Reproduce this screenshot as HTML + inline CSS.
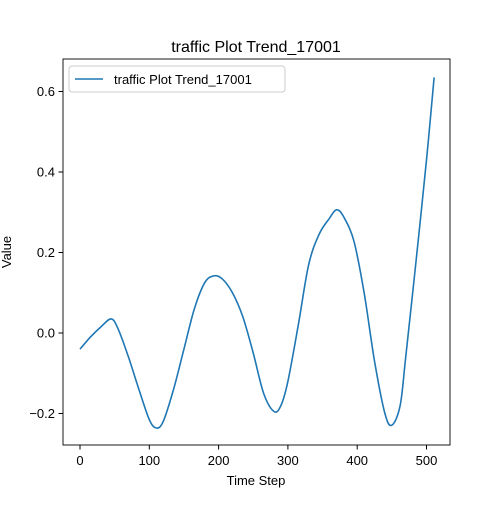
<!DOCTYPE html>
<html><head><meta charset="utf-8"><style>
body{margin:0;background:#fff;}
svg text{font-family:"Liberation Sans","DejaVu Sans",sans-serif;fill:#000;}
</style></head><body>
<svg id="chart" width="500" height="500" xmlns="http://www.w3.org/2000/svg">
<rect width="500" height="500" fill="#fff"/>
<text x="256" y="52" font-size="16" text-anchor="middle">traffic Plot Trend_17001</text>
<g id="grid"></g>
<path id="line" fill="none" stroke="#1f77b4" stroke-width="1.6"/>
<rect x="63" y="59" width="387" height="386" fill="none" stroke="#000" stroke-width="0.9"/>
<g id="ticks"></g>
<text x="256" y="485" font-size="13" text-anchor="middle">Time Step</text>
<text x="11" y="252" font-size="13" text-anchor="middle" transform="rotate(-90 11 252)">Value</text>
<g>
<rect x="69" y="66" width="216" height="26" rx="3" fill="#fff" stroke="#ccc"/>
<line x1="75" y1="79" x2="103" y2="79" stroke="#1f77b4" stroke-width="1.6"/>
<text x="114" y="84" font-size="13">traffic Plot Trend_17001</text>
</g>
</svg>
<script>
const xs=[0,15,30,45,55,70,85,100,110,120,135,150,165,180,193,205,220,235,250,265,280,290,300,315,330,345,360,370,380,395,410,425,440,450,462,470,485,500,511];
const ys=[-0.04,-0.01,0.015,0.035,0.01,-0.06,-0.14,-0.215,-0.236,-0.22,-0.14,-0.04,0.06,0.125,0.142,0.135,0.10,0.04,-0.05,-0.15,-0.195,-0.18,-0.12,0.02,0.17,0.245,0.285,0.306,0.29,0.23,0.1,-0.07,-0.2,-0.229,-0.18,-0.06,0.18,0.43,0.635];
const xTicks=[0,100,200,300,400,500];
const yTicks=[-0.2,0.0,0.2,0.4,0.6];
const yLabels=["−0.2","0.0","0.2","0.4","0.6"];
const X=v=>80+v*0.693;
const Y=v=>333-v*402.5;
const ns="http://www.w3.org/2000/svg";
const t=document.getElementById('ticks');
xTicks.forEach(v=>{
  const l=document.createElementNS(ns,'line');
  l.setAttribute('x1',X(v));l.setAttribute('x2',X(v));l.setAttribute('y1',445);l.setAttribute('y2',449.5);l.setAttribute('stroke','#000');
  
  
  t.appendChild(l);
  const s=document.createElementNS(ns,'text');
  s.setAttribute('x',X(v));s.setAttribute('y',465);s.setAttribute('font-size','13');s.setAttribute('text-anchor','middle');s.textContent=v;
  
  
  t.appendChild(s);
});
yTicks.forEach((v,i)=>{
  const l=document.createElementNS(ns,'line');
  l.setAttribute('x1',58.5);l.setAttribute('x2',63);l.setAttribute('y1',Y(v));l.setAttribute('y2',Y(v));l.setAttribute('stroke','#000');
  
  
  t.appendChild(l);
  const s=document.createElementNS(ns,'text');
  s.setAttribute('x',55);s.setAttribute('y',Y(v)+4.5);s.setAttribute('font-size','13');s.setAttribute('text-anchor','end');s.textContent=yLabels[i];
  
  
  t.appendChild(s);
});
const P=xs.map((x,i)=>[X(x),Y(ys[i])]);
let d='M'+P[0][0]+','+P[0][1];
for(let i=0;i<P.length-1;i++){
  const p0=P[Math.max(0,i-1)],p1=P[i],p2=P[i+1],p3=P[Math.min(P.length-1,i+2)];
  const c1=[p1[0]+(p2[0]-p0[0])/6,p1[1]+(p2[1]-p0[1])/6];
  const c2=[p2[0]-(p3[0]-p1[0])/6,p2[1]-(p3[1]-p1[1])/6];
  d+=` C${c1[0]},${c1[1]} ${c2[0]},${c2[1]} ${p2[0]},${p2[1]}`;
}
document.getElementById('line').setAttribute('d',d);
</script>
</body></html>
